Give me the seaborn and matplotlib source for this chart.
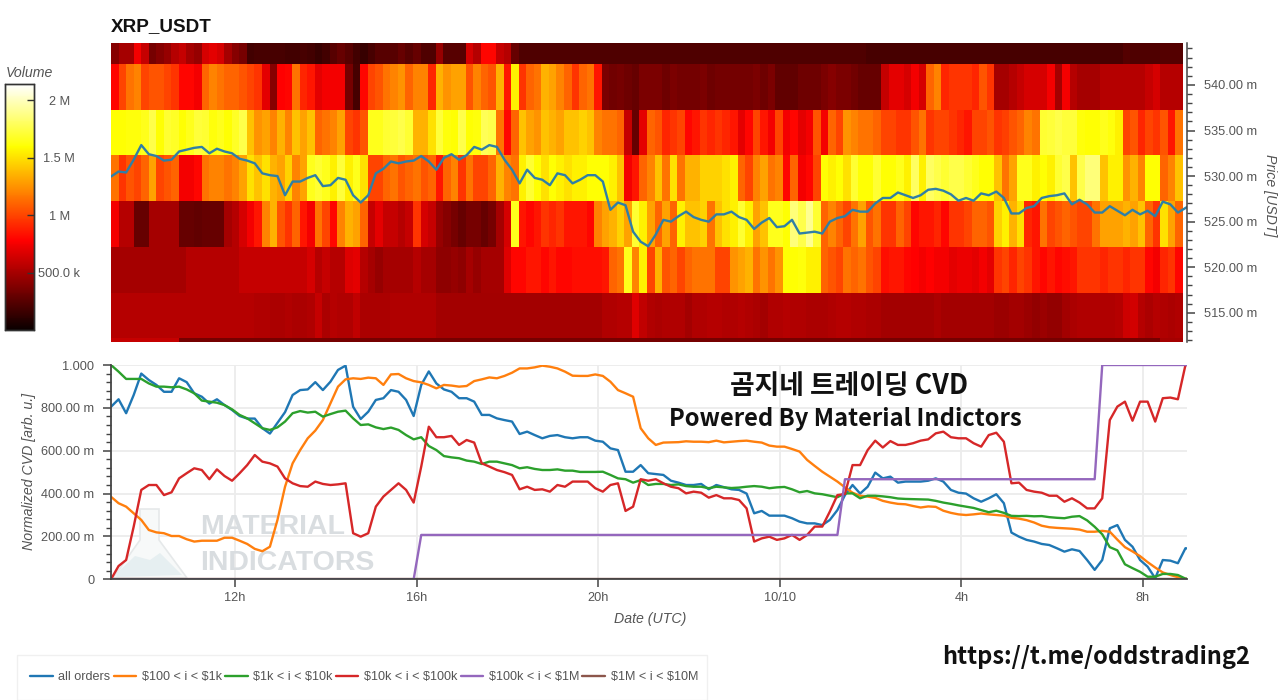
import numpy as np
import pandas as pd
import seaborn as sns
import matplotlib
matplotlib.use("Agg")
import matplotlib.pyplot as plt
from matplotlib.patches import Polygon, Rectangle
from matplotlib.ticker import FixedLocator, MultipleLocator, FuncFormatter

# ---------- DATA ----------
start_hour = 9.27
price_bin_labels = ["545", "540", "535", "530", "525", "520", "515", "510"]

vol_545 = [.4,.5,.5,.75,.6,.35,.4,.45,.55,.6,.5,.45,.65,.7,.65,.5,.4,.35,.18,.2,.2,.2,.2,.18,.18,.2,.18,.15,.18,.25,.3,.25,.18,.15,.2,.25,.25,.25,.3,.25,.3,.22,.22,
           .45,.25,.25,.25,.65,.55,.8,.8,.6,.55,.3,.22,.22,.22,.22,.22,.22,.22,.22,.22,.22,.22,.22,.22,.22,.22,.22,.22,.22,.22,.22,.22,.22,.22,.22,.22,.22,.22,.22,.22,.22,.22,.22,.22,.22,.22,.22,.22,.22,.22,.22,.22,.22,.22,.22,.22,.22,
           .2,.2,.2,.2,.2,.2,.2,.2,.2,.2,.2,.2,.2,.2,.2,.2,.2,.2,.2,.2,.2,.2,.2,.2,.2,.2,.2,.2,.2,.2,.2,.2,.2,.2,.24,.22,.22,.22,.22,.24,.24,.24]
vol_540 = [.8,1.0,1.15,1.2,1.0,1.05,1.05,1.0,.95,.8,.8,.75,1.1,1.2,1.15,1.1,1.1,1.05,1.0,.95,.7,.4,.78,.8,1.15,.9,.85,.7,.75,.75,.75,.35,.2,.8,1.0,1.05,1.15,1.2,1.25,1.1,1.2,1.2,.9,
           1.35,1.25,1.3,1.3,1.05,1.2,1.1,1.05,1.35,.85,1.55,.95,1.1,1.15,1.35,1.3,1.2,1.1,.95,1.1,1.15,.85,.36,.33,.35,.32,.3,.36,.36,.36,.32,.36,.34,.34,.34,.36,.32,.34,.34,.34,.34,.34,.36,.32,.36,.28,.28,.28,.32,.32,.32,.36,.4,.36,.36,.33,.3,
           .3,.3,.6,.7,.7,.65,.75,.65,1.1,1.2,.9,.95,.95,.95,.9,1.05,.95,.5,.5,.55,.6,.65,.65,.65,.75,.5,.75,.55,.5,.5,.5,.55,.55,.55,.55,.55,.55,.6,.65,.55,.55,.55]
vol_535 = [1.6,1.6,1.62,1.62,1.65,1.75,1.6,1.7,1.68,1.6,1.65,1.72,1.7,1.62,1.65,1.6,1.68,1.75,1.4,1.25,1.3,1.2,1.35,1.2,1.4,1.3,1.4,1.1,1.15,1.2,1.3,1.0,.95,1.05,1.65,1.65,1.7,1.72,1.75,1.7,1.35,1.35,1.5,
           1.72,1.62,1.6,1.75,1.6,1.62,1.78,1.75,1.15,.8,1.1,1.4,1.3,1.25,1.4,1.35,1.3,1.4,1.4,1.45,1.4,1.2,1.15,1.15,1.1,.6,.3,.7,1.1,1.05,.9,.95,1.0,.8,.85,.95,.9,.95,.9,.85,.7,.8,1.0,.85,.75,1.0,.75,.8,.7,.75,1.05,.75,1.1,1.0,1.25,1.2,1.15,
           1.15,1.1,1.0,1.0,.95,.95,1.05,1.15,.95,1.0,1.0,.95,.9,.85,1.0,1.0,1.05,.95,.98,1.05,1.1,1.2,1.15,1.7,1.72,1.75,1.72,1.72,1.62,1.6,1.6,1.65,1.62,1.55,1.0,1.05,.9,1.0,.95,1.05,.85,1.15]
vol_530 = [1.15,.95,1.05,1.0,1.1,1.3,1.0,1.05,1.1,.75,.75,.8,1.15,1.2,1.2,1.15,1.2,1.3,1.5,1.4,1.5,1.35,1.3,1.45,1.2,1.3,1.65,1.7,1.65,1.55,1.72,1.55,1.65,1.5,1.0,1.0,1.1,1.15,1.05,1.1,1.15,1.05,1.1,
           .85,1.1,1.2,.95,1.15,1.0,1.0,1.1,1.35,1.2,1.15,1.55,1.7,1.6,1.5,1.6,1.55,1.5,1.55,1.55,1.6,1.6,1.6,1.55,1.4,.75,.85,1.1,1.2,1.4,1.15,1.5,1.15,1.35,1.35,1.45,1.45,1.45,1.5,1.55,1.1,1.0,1.2,1.3,1.15,1.2,.8,1.1,.75,.8,1.0,1.6,1.55,1.6,1.5,1.7,1.6,
           1.6,1.7,1.6,1.6,1.65,1.55,1.8,1.55,1.8,1.75,1.7,1.75,1.75,1.7,1.65,1.6,1.6,1.4,1.15,1.3,1.65,1.65,1.55,1.6,1.55,1.7,1.75,1.4,1.75,1.85,1.85,1.4,1.55,1.55,1.25,1.35,1.2,1.6,1.6,1.1,1.2,1.4]
vol_525 = [.75,.55,.55,.3,.3,.5,.5,.5,.5,.3,.3,.28,.3,.3,.3,.5,.55,.65,.75,.85,1.2,1.35,1.05,.95,1.1,.85,.75,1.15,1.0,.8,1.2,1.35,1.3,1.1,.6,.7,.6,.6,.55,.6,.95,.65,.6,
           .45,.4,.35,.3,.35,.35,.3,.35,.5,.65,1.65,.85,.8,.85,.95,.9,.95,.85,.85,.85,.8,1.2,1.3,1.35,1.45,1.3,1.7,1.55,1.3,1.1,1.3,1.1,1.55,1.4,1.4,1.45,1.15,1.4,1.5,1.55,1.7,1.55,1.3,1.4,1.65,1.65,1.6,1.85,1.75,1.9,1.7,1.1,1.2,1.1,1.0,1.15,1.3,
           1.05,1.15,.95,.95,1.1,1.0,.8,.85,.85,.9,.8,.95,.95,1.0,1.1,1.1,1.05,1.45,1.55,1.35,1.5,.9,.85,1.15,1.0,1.05,1.1,1.05,1.0,1.0,1.15,1.3,1.3,1.3,1.35,1.3,1.4,1.1,.95,1.5,1.3,1.1]
vol_520 = [.5,.5,.5,.5,.5,.5,.5,.5,.5,.5,.55,.55,.55,.55,.55,.55,.55,.6,.6,.6,.6,.6,.6,.6,.6,.6,.65,.55,.6,.55,.55,.67,.7,.55,.5,.45,.5,.5,.5,.5,.55,.5,.5,
           .42,.42,.45,.42,.5,.45,.5,.5,.5,.68,.8,.8,.85,.85,.8,.85,.8,.8,.82,.82,.82,.82,.85,1.1,1.15,1.65,1.2,1.55,1.0,1.35,1.05,1.1,1.0,1.1,1.15,1.15,1.15,1.0,1.0,1.25,1.3,1.35,1.15,1.25,1.15,1.25,1.6,1.6,1.62,1.55,1.55,1.1,1.05,1.0,1.15,1.1,1.15,
           1.05,1.0,.82,.85,.85,.8,.78,.75,.78,.75,.75,.7,.72,.72,.7,.75,.7,.95,1.0,.9,1.0,.95,.85,.8,.85,.8,.82,.85,.95,.95,.95,.9,.95,.95,.9,.95,.95,.8,.75,.9,.95,.8]
vol_515 = [.55,.55,.55,.55,.55,.55,.55,.55,.55,.55,.55,.55,.55,.55,.55,.55,.55,.55,.55,.53,.53,.51,.51,.53,.51,.51,.53,.6,.51,.55,.53,.53,.58,.51,.51,.51,.51,.53,.53,.53,.53,.53,.53,
           .49,.49,.49,.49,.49,.49,.49,.49,.49,.49,.49,.49,.49,.49,.49,.49,.49,.49,.49,.49,.49,.49,.53,.53,.55,.55,.68,.58,.53,.51,.53,.53,.53,.49,.53,.53,.55,.55,.53,.53,.55,.53,.51,.49,.53,.53,.55,.53,.53,.51,.51,.51,.53,.55,.55,.53,.53,
           .51,.51,.49,.49,.49,.49,.49,.49,.49,.51,.49,.49,.49,.49,.49,.49,.49,.46,.46,.49,.49,.46,.44,.46,.44,.44,.49,.51,.53,.53,.53,.53,.53,.55,.62,.64,.55,.51,.55,.53,.51,.53]
vol_510 = [.6,.6,.6,.6,.6,.6,.6,.6,.6,.35,.35,.35,.35,.35,.35,.35,.35,.35,.35,.35,.35,.35,.35,.35,.35,.35,.35,.35,.35,.35,.35,.35,.35,.35,.35,.35,.35,.35,.35,.35,.35,.35,.35,
           .35,.35,.35,.35,.35,.35,.35,.35,.35,.35,.35,.35,.35,.35,.35,.35,.35,.35,.35,.35,.35,.35,.35,.35,.35,.35,.35,.35,.35,.35,.35,.35,.35,.35,.35,.35,.35,.35,.35,.35,.35,.35,.35,.35,.35,.35,.35,.35,.35,.35,.35,.35,.35,.35,.35,.35,.35,
           .35,.35,.35,.35,.35,.35,.35,.35,.35,.35,.35,.35,.35,.35,.35,.35,.35,.35,.35,.35,.35,.35,.35,.35,.35,.35,.35,.35,.35,.35,.35,.35,.35,.35,.35,.35,.35,.35,.35,.5,.5,.5]

price = [529.95,530.5,530.4,531.8,533.4,532.4,532.2,531.7,531.8,532.7,532.9,533.1,533.2,532.5,533,532.7,532.5,531.9,531.7,531.4,530.3,530.1,530,527.9,529.4,529.4,529.8,530.1,528.9,529,529.8,529.6,527.9,527.1,527.9,530.3,530.8,531.6,531.4,531.6,531.7,532.2,531.6,
         530.7,532,532.4,531.8,532.3,533.2,532.9,533.4,533.2,531.8,530.7,529.2,530.7,529.8,529.6,529,530.3,530.1,529.2,529.6,530.1,530.1,529.4,526.3,527.1,526.8,523.9,522.8,522.3,523.6,525.2,525,525.6,526.1,525.5,525.2,525,525.8,525.8,526.1,525.5,525.2,524.2,524.9,525.4,524.4,524.5,525.2,523.7,523.8,523.9,523.7,525,525.4,525.6,526.3,526.1,
         526.1,527,527.6,527.6,528.2,527.9,527.6,527.9,528.5,528.6,528.4,528,527.3,527.6,527.3,528.1,527.9,528.3,527.6,525.9,525.9,526.5,526.7,527.6,527.8,527.9,528.1,526.9,527.4,526.9,526,526,526.7,526.2,525.7,526.3,525.8,526.2,525.6,527.2,526.9,526,526.5,527]

all_orders = [.805,.84,.775,.86,.96,.93,.907,.875,.875,.938,.92,.868,.852,.82,.84,.813,.79,.762,.75,.75,.705,.68,.73,.78,.86,.883,.886,.92,.883,.922,.977,.997,.805,.748,.782,.837,.845,.883,.875,.837,.762,.907,.97,
              .914,.886,.875,.845,.845,.829,.767,.767,.751,.743,.736,.678,.689,.673,.658,.669,.673,.663,.658,.663,.663,.647,.642,.611,.603,.502,.502,.533,.495,.491,.487,.46,.451,.44,.44,.445,.42,.44,.43,.42,.417,.40,.308,.319,.297,.297,.297,.285,.269,.261,.261,.253,.277,.323,.393,.44,.40,
              .432,.498,.471,.479,.451,.456,.456,.456,.46,.471,.456,.417,.404,.40,.378,.362,.378,.397,.355,.218,.199,.184,.176,.165,.16,.145,.129,.14,.132,.09,.044,.09,.238,.253,.184,.152,.09,.059,.005,.09,.087,.075,.145,.14]
o_100_1k = [.385,.355,.339,.308,.277,.23,.219,.215,.202,.202,.187,.176,.18,.18,.18,.194,.194,.18,.165,.142,.131,.152,.277,.432,.541,.603,.658,.694,.743,.821,.899,.933,.938,.935,.941,.938,.907,.956,.958,.938,.925,.919,.907,
            .891,.907,.904,.899,.902,.925,.933,.942,.938,.949,.964,.984,.984,.989,.997,.992,.984,.969,.95,.949,.949,.956,.949,.922,.883,.868,.852,.705,.658,.627,.638,.639,.64,.644,.642,.642,.64,.647,.639,.642,.645,.647,.642,.638,.624,.619,.619,.608,.596,.557,.529,.502,.479,.456,.429,.404,.39,
            .386,.38,.366,.358,.352,.35,.342,.335,.34,.338,.32,.31,.303,.30,.303,.307,.303,.30,.297,.287,.283,.276,.265,.25,.243,.24,.238,.236,.232,.222,.222,.226,.222,.185,.15,.13,.108,.08,.055,.032,.02,.01,.002,0]
o_1k_10k = [1.0,.969,.935,.935,.935,.914,.899,.899,.896,.899,.886,.868,.834,.829,.824,.813,.793,.767,.751,.728,.705,.697,.709,.736,.775,.785,.778,.782,.759,.771,.782,.787,.751,.72,.723,.709,.701,.708,.697,.673,.653,.663,.622,
            .603,.575,.569,.565,.554,.549,.538,.549,.549,.541,.533,.518,.523,.515,.51,.51,.513,.507,.507,.501,.501,.501,.502,.487,.471,.467,.451,.463,.44,.445,.445,.44,.443,.435,.432,.432,.425,.432,.429,.426,.428,.432,.435,.432,.425,.429,.431,.42,.406,.412,.401,.397,.39,.383,.401,.401,.378,
            .39,.39,.387,.383,.377,.375,.374,.373,.372,.366,.358,.352,.345,.339,.333,.323,.313,.32,.31,.296,.295,.296,.294,.295,.29,.287,.285,.292,.295,.275,.245,.21,.15,.135,.07,.052,.035,.012,.012,.025,.025,.02,.003,0]
o_10k_100k = [0,.062,.09,.246,.417,.44,.44,.393,.406,.471,.495,.518,.51,.467,.513,.482,.46,.495,.533,.58,.549,.541,.526,.471,.448,.435,.432,.456,.445,.44,.443,.448,.215,.199,.215,.339,.386,.417,.448,.417,.358,.526,.712,
              .663,.663,.669,.627,.65,.638,.541,.526,.51,.50,.487,.42,.432,.417,.42,.409,.44,.432,.456,.456,.456,.425,.409,.44,.448,.319,.339,.467,.46,.467,.448,.432,.425,.401,.409,.404,.381,.393,.378,.378,.37,.331,.176,.191,.199,.184,.191,.207,.184,.207,.246,.246,.316,.393,.398,.533,.533,
              .603,.647,.615,.645,.627,.627,.635,.647,.653,.681,.689,.663,.658,.658,.635,.619,.673,.684,.642,.448,.451,.417,.409,.404,.39,.39,.362,.378,.358,.331,.331,.378,.743,.806,.829,.74,.829,.829,.736,.845,.848,.84,1.0,1.0]
o_100k_1m = [0]*41 + [.207]*56 + [.467]*34 + [1.0]*13
o_1m_10m = [0]*144

series_names = ["all orders", r"\$100 < i < \$1k", r"\$1k < i < \$10k", r"\$10k < i < \$100k", r"\$100k < i < \$1M", r"\$1M < i < \$10M"]
cvd_ticks = [0, .2, .4, .6, .8, 1.0]
cvd_tick_labels = ["0", "200.00 m", "400.00 m", "600.00 m", "800.00 m", "1.000"]
time_ticks = [12, 16, 20, 24, 28, 32]
time_tick_labels = ["12h", "16h", "20h", "10/10", "4h", "8h"]
price_ticks = [515, 520, 525, 530, 535, 540]
vol_ticks = [.5, 1, 1.5, 2]
vol_tick_labels = ["500.0 k", "1 M", "1.5 M", "2 M"]

vol_rows = [vol_545, vol_540, vol_535, vol_530, vol_525, vol_520, vol_515, vol_510]
for i, r in enumerate(vol_rows):
    assert len(r) == 142, f"row {i} len {len(r)}"
cvd_all = [all_orders, o_100_1k, o_1k_10k, o_10k_100k, o_100k_1m, o_1m_10m]
for i, s in enumerate(cvd_all + [price]):
    assert len(s) == 144, f"series {i} len {len(s)}"

# ---------- LAYOUT ----------
W, H = 1280, 700
sns.set_theme(style="white")
plt.rcParams["font.family"] = ["Liberation Sans", "DejaVu Sans"]
TXT = "#555555"
AX = "#444444"
fig = plt.figure(figsize=(W / 100, H / 100), dpi=100, facecolor="white")

def box(x0, y0, x1, y1):
    return [x0 / W, 1 - y1 / H, (x1 - x0) / W, (y1 - y0) / H]

hours = start_hour + np.arange(144) / 6
hour_lim = (start_hour, start_hour + (1187 - 111) / 45.4)

# heatmap
ax_heat = fig.add_axes(box(111, 43, 1183, 342))
cax = fig.add_axes(box(5, 84, 34, 330))
frame = pd.DataFrame(vol_rows, index=price_bin_labels)
sns.heatmap(frame, cmap="hot", vmin=0, vmax=2.14, ax=ax_heat, cbar_ax=cax,
            xticklabels=False, yticklabels=False,
            cbar_kws={"ticks": vol_ticks})
ax_heat.set_ylim(7.08, 0.54)
ax_heat.set_xlabel(""); ax_heat.set_ylabel("")
cax.set_axisbelow(False)
cax.set_yticks(vol_ticks)
cax.set_yticklabels(vol_tick_labels, fontsize=9.2, color=TXT, ha="center")
cax.tick_params(axis="y", length=5, width=1, direction="in", color="#333333", pad=0, right=True)
for lab in cax.get_yticklabels():
    lab.set_x(1.87)
for s in cax.spines.values():
    s.set_visible(True); s.set_color("#333333"); s.set_linewidth(1)
fig.text(6 / W, 1 - 73 / H, "Volume", style="italic", fontsize=10.2, color=TXT, va="center")
fig.text(111 / W, 1 - 27 / H, "XRP_USDT", fontweight="bold", fontsize=13.6, color="#111111", va="center")

# price overlay
ax_price = fig.add_axes(box(111, 43, 1187, 342))
ax_price.patch.set_alpha(0)
sns.lineplot(x=hours, y=price, ax=ax_price, color="#2f7fa6", linewidth=1.7, legend=False)
ax_price.set_xlim(hour_lim)
ax_price.set_ylim(511.8, 544.6)
ax_price.set_xticks([])
ax_price.set_xlabel("")
ax_price.yaxis.tick_right()
ax_price.yaxis.set_label_position("right")
ax_price.yaxis.set_major_locator(FixedLocator(price_ticks))
ax_price.yaxis.set_major_formatter(FuncFormatter(lambda v, _: f"{v:.2f} m"))
ax_price.yaxis.set_minor_locator(MultipleLocator(1))
ax_price.tick_params(axis="y", which="major", length=6, width=1.1, color=AX, labelcolor=TXT, labelsize=9.2, pad=6, right=True)
ax_price.tick_params(axis="y", which="minor", length=3.5, width=1, color=AX, right=True)
for k, s in ax_price.spines.items():
    s.set_visible(k == "right")
ax_price.spines["right"].set_color(AX); ax_price.spines["right"].set_linewidth(1.1)
ax_price.set_ylabel("")
fig.text(1270 / W, 1 - 195 / H, "Price [USDT]", style="italic", rotation=270, fontsize=10.2, color=TXT, ha="center", va="center")

# CVD
ax_cvd = fig.add_axes(box(111, 365, 1187, 579.3))
ax_cvd.set_facecolor("white")
ax_cvd.grid(True, color="#ececec", linewidth=1.3)
ax_cvd.set_axisbelow(True)

# watermark
tf = fig.transFigure
def fp(pts):
    return [(x / W, 1 - y / H) for x, y in pts]
ax_cvd.add_patch(Polygon(fp([(140, 509), (159, 509), (159, 540), (187, 578), (113, 578), (140, 540)]), closed=True,
                         transform=tf, facecolor="#f7f9f9", edgecolor="#e6e9ea", linewidth=1.2, zorder=1.2))
ax_cvd.add_patch(Polygon(fp([(118, 572), (135, 556), (150, 560), (160, 553), (182, 575), (116, 577)]), closed=True,
                         transform=tf, facecolor="#e6eff1", edgecolor="none", zorder=1.3))
for label, yy in (("MATERIAL", 527), ("INDICATORS", 563)):
    ax_cvd.text(200 / W, 1 - yy / H, label, fontweight="bold", fontsize=20.5, color="#d9dde0", va="center",
                transform=tf, zorder=1.4, clip_on=False)

colors = ["#1f77b4", "#ff7f0e", "#2ca02c", "#d62728", "#9467bd", "#8c564b"]
for vals, c, name in zip(cvd_all, colors, series_names):
    sns.lineplot(x=hours, y=vals, ax=ax_cvd, color=c, linewidth=1.7, label=name, legend=False)
handles = ax_cvd.get_lines()[-6:]
# the $1M series sits under the others at zero
handles[5].set_zorder(1.5)

ax_cvd.set_xlim(hour_lim)
ax_cvd.set_ylim(0, 1)
ax_cvd.xaxis.set_major_locator(FixedLocator(time_ticks))
ax_cvd.set_xticklabels(time_tick_labels)
ax_cvd.yaxis.set_major_locator(FixedLocator(cvd_ticks))
ax_cvd.set_yticklabels(cvd_tick_labels)
ax_cvd.yaxis.set_minor_locator(MultipleLocator(.04))
ax_cvd.tick_params(axis="x", length=6, width=1.1, color=AX, labelcolor=TXT, labelsize=9.2, pad=3.5, bottom=True)
ax_cvd.tick_params(axis="y", which="major", length=6, width=1.1, color=AX, labelcolor=TXT, labelsize=9.2, pad=6, left=True)
ax_cvd.tick_params(axis="y", which="minor", length=3.5, width=1, color=AX, left=True)
for k, s in ax_cvd.spines.items():
    s.set_visible(k in ("left", "bottom"))
    s.set_color(AX); s.set_linewidth(1.3)
ax_cvd.set_xlabel(""); ax_cvd.set_ylabel("")
fig.text(650 / W, 1 - 619 / H, "Date (UTC)", style="italic", fontsize=10.2, color=TXT, ha="center", va="center")
fig.text(29 / W, 1 - 472 / H, "Normalized CVD [arb. u.]", style="italic", rotation=90, fontsize=10.2, color=TXT, ha="center", va="center")

# annotations
kr = ["Noto Sans CJK KR", "DejaVu Sans"]
fig.text(849 / W, 1 - 386 / H, "곰지네 트레이딩 CVD", fontweight="bold", fontsize=19.3, color="#111111", ha="center", va="center", family=kr)
fig.text(845 / W, 1 - 419 / H, "Powered By Material Indictors", fontweight="bold", fontsize=17.1, color="#111111", ha="center", va="center", family=kr)
fig.text(1096 / W, 1 - 657 / H, "https://t.me/oddstrading2", fontweight="bold", fontsize=17, color="#111111", ha="center", va="center", family=kr)

# legend
fig.add_artist(Rectangle((17 / W, 0), 690 / W, 45 / H, transform=tf, facecolor="white", edgecolor="#f0f0f0", linewidth=1))
fig.legend(handles, series_names, ncol=6, frameon=False, loc="center left", bbox_to_anchor=(30 / W, 1 - 677 / H),
           fontsize=9.05, labelcolor=TXT, handlelength=1.8, handletextpad=0.45, columnspacing=0.25, borderpad=0, borderaxespad=0)

fig.savefig("out.png", dpi=100, facecolor="white")
